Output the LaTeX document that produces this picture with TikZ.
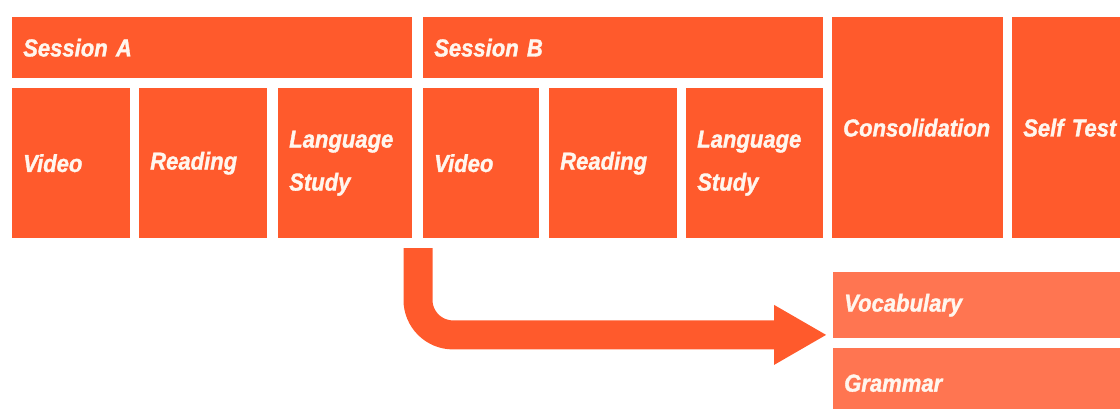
\documentclass[tikz,border=0pt]{standalone}
\usepackage{fontspec}
\setmainfont[FakeStretch=0.9, BoldItalicFeatures={FakeBold=1.3}]{Liberation Sans}
\usepackage{tikz}
\usetikzlibrary{arrows.meta}
\definecolor{tileorange}{HTML}{FF5A2C}
\definecolor{tilelight}{HTML}{FF7551}
\definecolor{tiletext}{HTML}{FFF6EE}

\begin{document}
\begin{tikzpicture}[x=1pt, y=-1pt,
  every node/.style={anchor=north west, fill=tileorange, text=tiletext, inner xsep=11pt, inner ysep=0pt, align=left,
    font=\fontsize{24.5}{43}\selectfont\bfseries\itshape},
  light/.style={fill=tilelight},
  bigarrow/.style={draw=tileorange, line width=29pt, rounded corners=35pt, -{Triangle[width=56pt, length=53pt]}}]
  \useasboundingbox (0,0) rectangle (1120,409);
  \clip (0,0) rectangle (1120,409);
  \node (sessA) [minimum width=400pt, text width=378pt, minimum height=61pt] at (12,17) {Session A};
  \node (sessB) [minimum width=400pt, text width=378pt, minimum height=61pt] at (423,17) {Session B};
  \node (videoA) [minimum width=118pt, text width=96pt, minimum height=150pt] at (12,88) {Video};
  \node (readA) [minimum width=128pt, text width=106pt, minimum height=150pt] at (139,88) {Reading};
  \node (langA) [minimum width=134pt, text width=112pt, minimum height=150pt] at (278,88) {Language\\Study};
  \node (videoB) [minimum width=116pt, text width=94pt, minimum height=150pt] at (423,88) {Video};
  \node (readB) [minimum width=128pt, text width=106pt, minimum height=150pt] at (549,88) {Reading};
  \node (langB) [minimum width=137pt, text width=115pt, minimum height=150pt] at (686,88) {Language\\Study};
  \node (consol) [minimum width=171pt, text width=149pt, minimum height=221pt, inner xsep=9pt] at (832,17) {Consolidation};
  \node (selftest) [minimum width=130pt, text width=108pt, minimum height=221pt, inner xsep=10pt] at (1012,17) {Self Test};
  \node (vocab) [light, minimum width=300pt, text width=278pt, minimum height=66pt, inner xsep=10pt] at (833,272) {Vocabulary};
  \node (gram) [light, minimum width=300pt, text width=278pt, minimum height=70pt, inner xsep=10pt] at (833,348) {Grammar};
  \coordinate (split) at (418,248);
  \draw[bigarrow] (split) |- ([xshift=-6pt, yshift=3.5pt]vocab.south west);
\end{tikzpicture}
\end{document}
